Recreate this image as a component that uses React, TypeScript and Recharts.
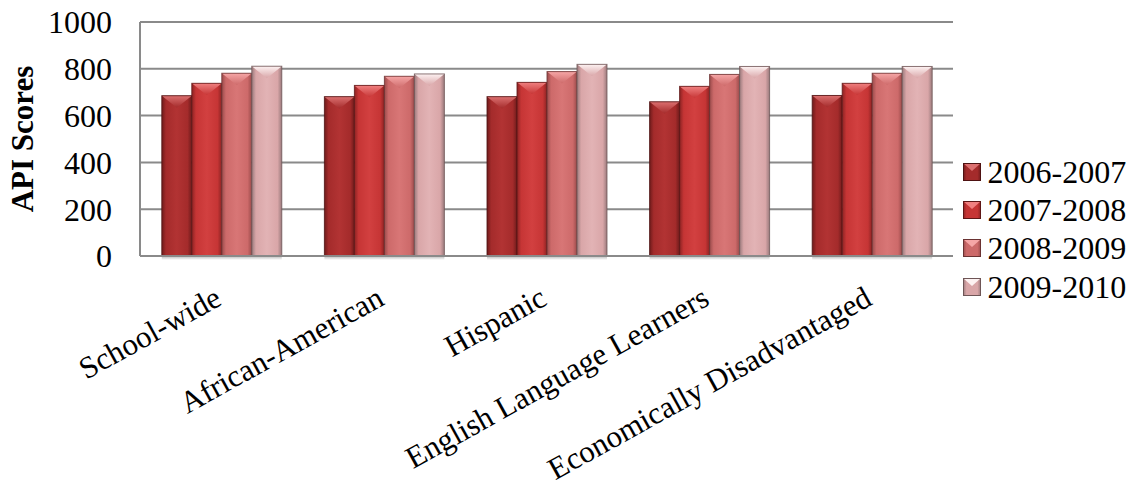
import React from 'react';
import { BarChart, Bar, XAxis, YAxis, CartesianGrid, Label } from 'recharts';

// Student groups along the x axis
const categories = [
  'School-wide',
  'African-American',
  'Hispanic',
  'English Language Learners',
  'Economically Disadvantaged',
];

// API scores per school year
const scores2006 = [685, 681, 681, 659, 686];
const scores2007 = [738, 729, 742, 725, 738];
const scores2008 = [781, 768, 788, 776, 781];
const scores2009 = [811, 778, 819, 810, 810];

const seriesNames = ['2006-2007', '2007-2008', '2008-2009', '2009-2010'];
const yTicks = [0, 200, 400, 600, 800, 1000];

const seriesValues = [scores2006, scores2007, scores2008, scores2009];
const data = categories.map((name, i) => {
  const row: Record<string, string | number> = { name };
  seriesNames.forEach((s, k) => {
    row[s] = seriesValues[k][i];
  });
  return row;
});

const FONT = '"Liberation Serif", "Times New Roman", Times, serif';

// Shading for each series: edge, body, centre highlight, bevel highlight, outline
const tones = [
  { id: 't0', edge: '#6f1b1b', body: '#a42b2b', light: '#b23333', bevel: '#dc7070', outline: '#4e1212' },
  { id: 't1', edge: '#8c2323', body: '#c63535', light: '#d24040', bevel: '#f08080', outline: '#5e1616' },
  { id: 't2', edge: '#9a4b4b', body: '#cd6a6a', light: '#d87676', bevel: '#f6a6a6', outline: '#6a3232' },
  { id: 't3', edge: '#9a7a7c', body: '#d9a6a8', light: '#e2b3b5', bevel: '#fdf2f2', outline: '#6e5556' },
];

function Gradients() {
  return (
    <defs>
      {tones.map((t) => (
        <React.Fragment key={t.id}>
          <linearGradient id={`${t.id}-body`} x1="0" y1="0" x2="1" y2="0">
            <stop offset="0" stopColor={t.edge} />
            <stop offset="0.14" stopColor={t.body} />
            <stop offset="0.5" stopColor={t.light} />
            <stop offset="0.86" stopColor={t.body} />
            <stop offset="1" stopColor={t.edge} />
          </linearGradient>
          <linearGradient id={`${t.id}-bevel`} x1="0" y1="0" x2="0" y2="1">
            <stop offset="0" stopColor={t.bevel} />
            <stop offset="1" stopColor={t.body} />
          </linearGradient>
        </React.Fragment>
      ))}
      <linearGradient id="base-shadow" x1="0" y1="0" x2="0" y2="1">
        <stop offset="0" stopColor="#000" stopOpacity={0.28} />
        <stop offset="1" stopColor="#000" stopOpacity={0} />
      </linearGradient>
    </defs>
  );
}

function BevelBar(props: any) {
  const { x, y, width, height, tone } = props;
  if (!(width > 0) || !(height > 0)) return null;
  const bh = Math.min(12, height);
  return (
    <g>
      <rect x={x} y={y + height} width={width} height={4} fill="url(#base-shadow)" />
      <rect x={x} y={y} width={width} height={height} fill={`url(#${tone.id}-body)`} />
      <polygon
        points={`${x},${y} ${x + width},${y} ${x + width / 2},${y + bh}`}
        fill={`url(#${tone.id}-bevel)`}
      />
      <rect
        x={x}
        y={y}
        width={width}
        height={height}
        fill="none"
        stroke={tone.outline}
        strokeWidth={1}
        strokeOpacity={0.8}
      />
    </g>
  );
}

function CategoryTick(props: any) {
  const { x, y, payload } = props;
  const tx = x + 2;
  const ty = y + 48;
  return (
    <text
      x={tx}
      y={ty}
      transform={`rotate(-29, ${tx}, ${ty})`}
      textAnchor="end"
      fontFamily={FONT}
      fontSize={31}
      fill="#000"
    >
      {payload.value}
    </text>
  );
}

function AxisTitle(props: any) {
  const { viewBox } = props;
  const cy = viewBox.y + viewBox.height / 2;
  const cx = 33;
  return (
    <text
      x={cx}
      y={cy}
      transform={`rotate(-90, ${cx}, ${cy})`}
      textAnchor="middle"
      fontFamily={FONT}
      fontWeight="bold"
      fontSize={31}
      fill="#000"
    >
      API Scores
    </text>
  );
}

function LegendSwatch({ tone }: { tone: (typeof tones)[number] }) {
  return (
    <svg width={18} height={18} style={{ display: 'block' }}>
      <defs>
        <linearGradient id={`${tone.id}-lg`} x1="0" y1="0" x2="1" y2="0">
          <stop offset="0" stopColor={tone.edge} />
          <stop offset="0.2" stopColor={tone.body} />
          <stop offset="0.8" stopColor={tone.body} />
          <stop offset="1" stopColor={tone.edge} />
        </linearGradient>
      </defs>
      <rect x={0} y={0} width={18} height={18} fill={`url(#${tone.id}-lg)`} />
      <polygon points="0,0 18,0 9,8" fill={tone.bevel} />
      <rect x={0.5} y={0.5} width={17} height={17} fill="none" stroke={tone.outline} strokeWidth={1} />
    </svg>
  );
}

export default function App() {
  return (
    <div
      style={{
        position: 'absolute',
        left: 0,
        top: 0,
        width: 1138,
        height: 492,
        background: '#fff',
        fontFamily: FONT,
      }}
    >
      <BarChart
        width={1138}
        height={492}
        data={data}
        margin={{ top: 22, right: 185, bottom: 0, left: 0 }}
        barGap={0}
        barCategoryGap="13.4%"
      >
        <Gradients />
        <CartesianGrid vertical={false} stroke="#8a8a8a" strokeWidth={2} />
        <XAxis
          dataKey="name"
          height={236}
          axisLine={{ stroke: '#8a8a8a', strokeWidth: 2 }}
          tickLine={false}
          tickSize={0}
          tickMargin={0}
          interval={0}
          tick={<CategoryTick />}
        />
        <YAxis
          width={140}
          domain={[0, 1000]}
          ticks={yTicks}
          axisLine={{ stroke: '#8a8a8a', strokeWidth: 2 }}
          tickLine={false}
          tickSize={0}
          tickMargin={28}
          tick={{ fill: '#000', fontSize: 32, fontFamily: FONT }}
        >
          <Label content={<AxisTitle />} />
        </YAxis>
        {seriesNames.map((s, k) => (
          <Bar
            key={s}
            dataKey={s}
            fill={tones[k].body}
            isAnimationActive={false}
            shape={(p: any) => <BevelBar {...p} tone={tones[k]} />}
          />
        ))}
      </BarChart>
      <div style={{ position: 'absolute', left: 963, top: 152.5 }}>
        {seriesNames.map((s, k) => (
          <div
            key={s}
            style={{ display: 'flex', alignItems: 'center', height: 38.3 }}
          >
            <LegendSwatch tone={tones[k]} />
            <span
              style={{
                marginLeft: 6.5,
                fontSize: 32,
                color: '#000',
                fontFamily: FONT,
                lineHeight: 1,
                whiteSpace: 'nowrap',
              }}
            >
              {s}
            </span>
          </div>
        ))}
      </div>
    </div>
  );
}
